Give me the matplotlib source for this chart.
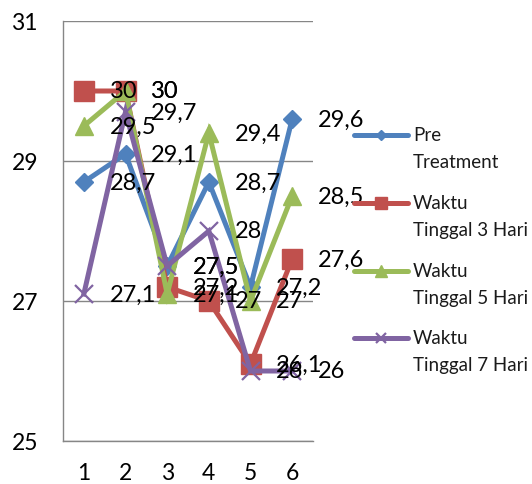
import matplotlib
matplotlib.use("Agg")
import matplotlib.pyplot as plt
from matplotlib.lines import Line2D

plt.rcParams["font.family"] = ["Lato", "DejaVu Sans"]

# Measurements per session (x axis) for each group
categories = [1, 2, 3, 4, 5, 6]
series_names = ["Pre\nTreatment", "Waktu\nTinggal 3 Hari",
                "Waktu\nTinggal 5 Hari", "Waktu\nTinggal 7 Hari"]
pre_treatment = [28.7, 29.1, 27.5, 28.7, 27.2, 29.6]
tinggal_3_hari = [30, 30, 27.2, 27, 26.1, 27.6]
tinggal_5_hari = [29.5, 30, 27.1, 29.4, 27, 28.5]
tinggal_7_hari = [27.1, 29.7, 27.5, 28, 26, 26]
y_ticks = [25, 27, 29, 31]

series_values = [pre_treatment, tinggal_3_hari, tinggal_5_hari, tinggal_7_hari]
colors = ["#4F81BD", "#C0504D", "#9BBB59", "#8064A2"]
markers = ["D", "s", "^", "x"]
marker_sizes = [9.2, 14, 13, 13]
legend_marker_sizes = [5.5, 9, 8.5, 7.5]

W, H = 532, 485
fig = plt.figure(figsize=(W / 100, H / 100), dpi=100)
ax = fig.add_axes([63 / W, 1 - 442 / H, 250 / W, 420 / H])

grid_color = "#868686"
for i, (vals, col, mk, ms) in enumerate(zip(series_values, colors, markers, marker_sizes)):
    ax.plot(categories, vals, color=col, lw=3.6, marker=mk, ms=ms,
            mec=col, mfc=col, mew=1.6 if mk == "x" else 1.0,
            solid_joinstyle="miter", zorder=3 + i, clip_on=False)

# value labels to the right of each point
for vals in series_values:
    for x, v in zip(categories, vals):
        ax.annotate(f"{v:g}".replace(".", ","), (x, v), xytext=(18.5, 0),
                    textcoords="offset points", ha="left", va="center",
                    fontsize=17, color="black", zorder=10)

ax.set_xlim(0.5, 6.5)
ax.set_ylim(25, 31)
ax.set_xticks(categories)
ax.set_yticks(y_ticks)
ax.tick_params(axis="both", length=0, labelsize=16.5, colors="black")
ax.tick_params(axis="y", pad=18)
ax.tick_params(axis="x", pad=15)
ax.grid(axis="y", color=grid_color, lw=1.0, zorder=1)
ax.set_axisbelow(True)
for side in ["top", "right"]:
    ax.spines[side].set_visible(False)
for side in ["left", "bottom"]:
    ax.spines[side].set_color(grid_color)
    ax.spines[side].set_linewidth(1.0)

# legend drawn on the right side of the figure
legend_y = [136, 204, 272, 339]
for name, col, mk, ms, yy in zip(series_names, colors, markers, legend_marker_sizes, legend_y):
    fy = 1 - yy / H
    fig.add_artist(Line2D([354 / W, 408 / W], [fy, fy], transform=fig.transFigure,
                          color=col, lw=3.6, solid_capstyle="round"))
    fig.add_artist(Line2D([381 / W], [fy], transform=fig.transFigure, color=col,
                          marker=mk, ms=ms, mec=col, mfc=col,
                          mew=1.6 if mk == "x" else 1.0, lw=0))
    fig.text(413 / W, 1 - (yy - 9) / H, name, ha="left", va="top",
             fontsize=13.5, linespacing=1.68, color="#1a1a1a")

fig.savefig("out.png", dpi=100)
